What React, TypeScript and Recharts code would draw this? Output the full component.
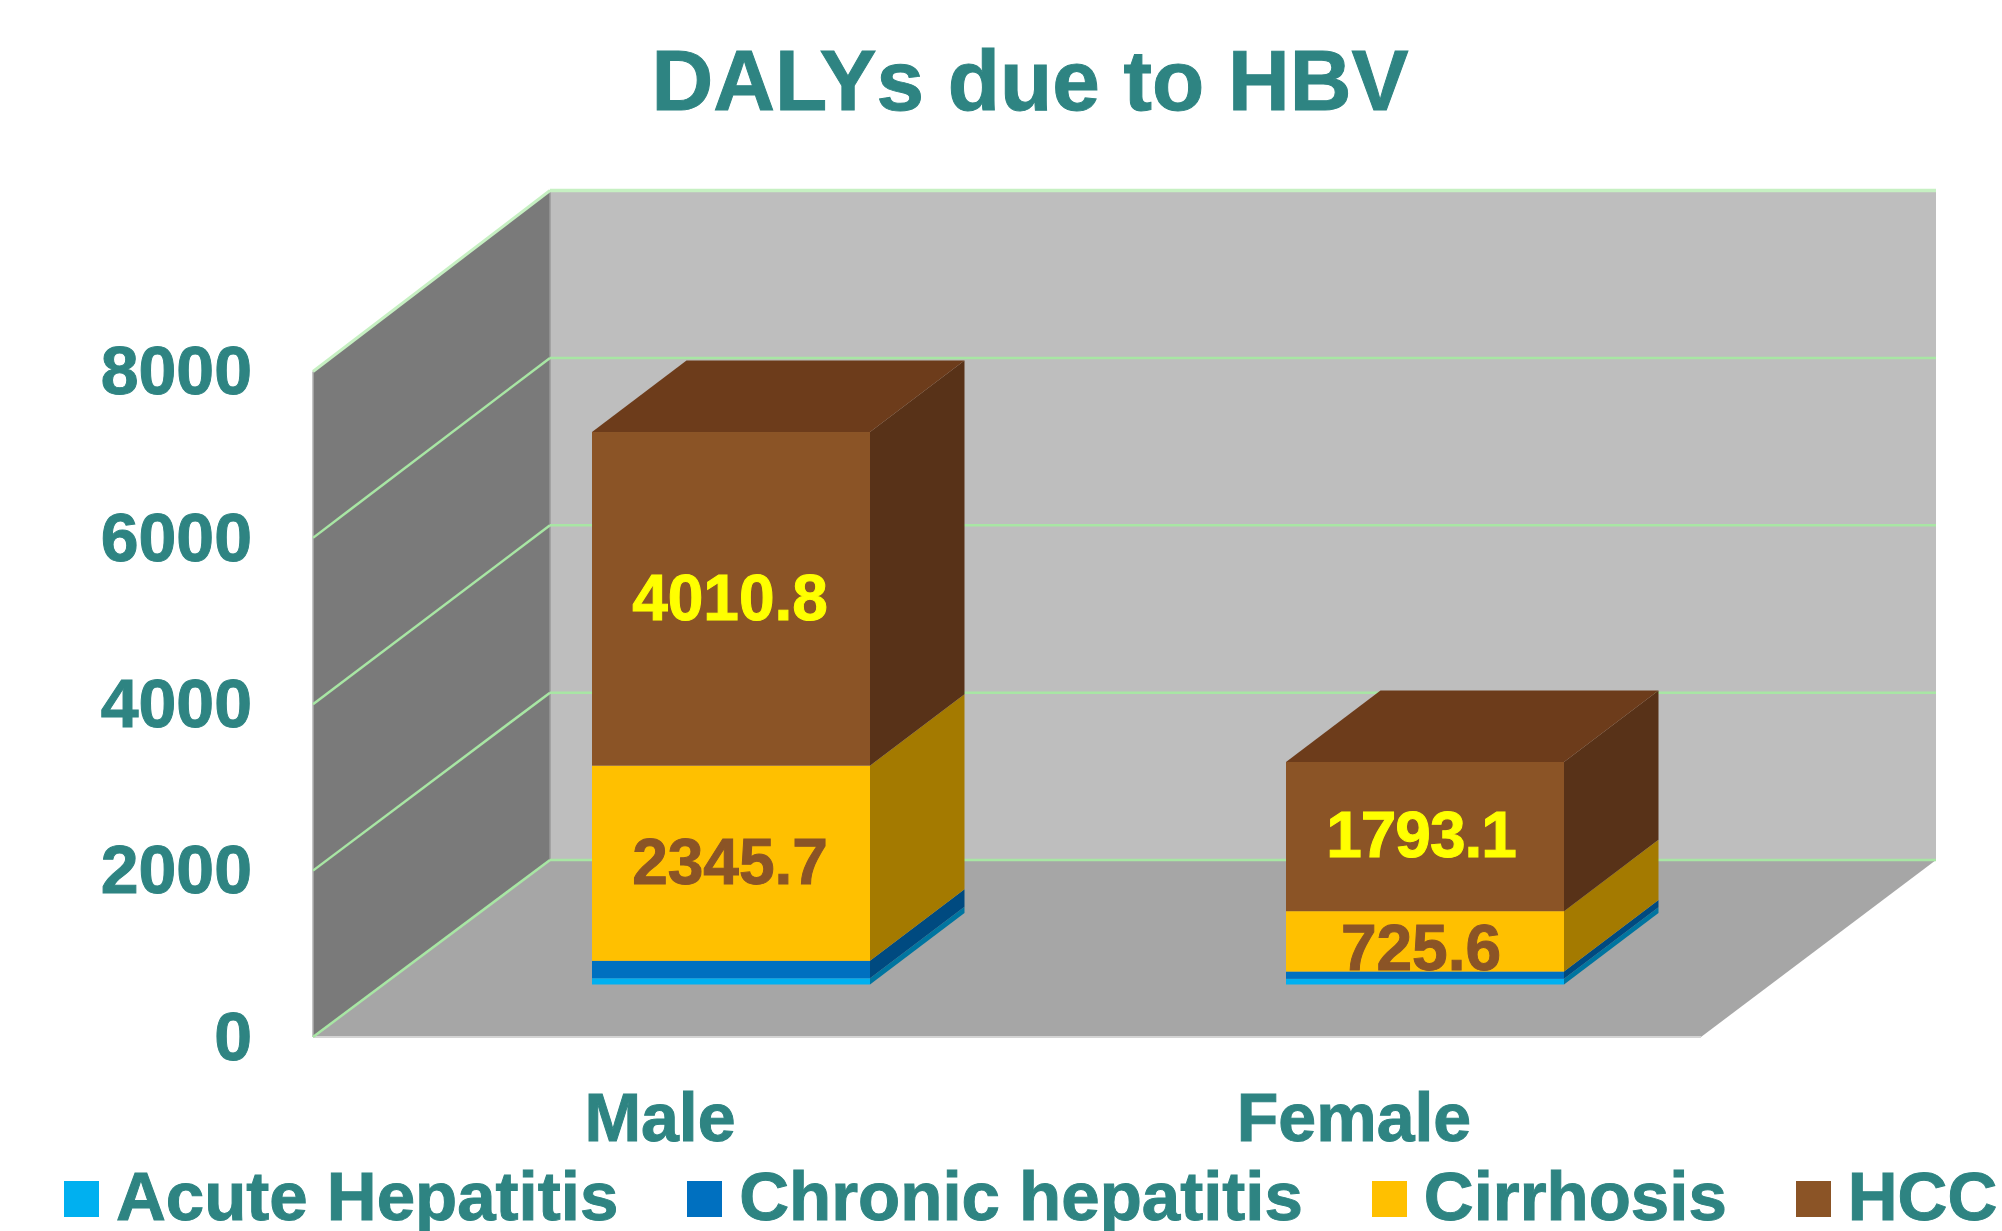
import { BarChart, Bar, XAxis, YAxis, Legend, LabelList, usePlotArea } from "recharts";

const categories = ["Male", "Female"];
const acuteHepatitis = [75, 68];
const chronicHepatitis = [210, 88];
const cirrhosis = [2345.7, 725.6];
const hcc = [4010.8, 1793.1];
const yTicks = [0, 2000, 4000, 6000, 8000];

const chartData = categories.map((name, i) => ({
  name,
  acute: acuteHepatitis[i],
  chronic: chronicHepatitis[i],
  cirrhosis: cirrhosis[i],
  hcc: hcc[i],
}));

const TEAL = "#2e8482";
const GRID = "#a8e6a4";
const GRID_TOP = "#c6f0c2";
const FONT = '"Liberation Sans", Arial, sans-serif';

// 3d depth of the room, of the bars, and where bars sit on the floor
const WALL_DX = 237;
const WALL_DY = 177;
const BACK_SCALE = 1.006;
const BOX_DX = 94.5;
const BOX_DY = 71.5;
const BOX_SHIFT_X = 71;
const BOX_SHIFT_Y = 52.5;

function pts(list: number[][]) {
  return list.map((p) => p.join(",")).join(" ");
}

function Room() {
  const plot = usePlotArea();
  if (!plot) return null;
  const { x, y, width, height } = plot;
  const bottom = y + height;
  const right = x + width;
  const backLeft = x + WALL_DX;
  const backRight = right + WALL_DX - 2;
  const backBottom = bottom - WALL_DY;
  const backTop = backBottom - height * BACK_SCALE;
  return (
    <g>
      <polygon
        points={pts([[backLeft, backTop], [backRight, backTop], [backRight, backBottom], [backLeft, backBottom]])}
        fill="#bebebe"
      />
      <polygon
        points={pts([[x, y], [backLeft, backTop], [backLeft, backBottom], [x, bottom]])}
        fill="#7a7a7a"
      />
      <polygon
        points={pts([[x, bottom], [backLeft, backBottom], [backRight, backBottom], [right, bottom]])}
        fill="#a6a6a6"
      />
      <line x1={x} y1={bottom} x2={right} y2={bottom} stroke="#d4d4d4" strokeWidth={2} />
      <line x1={x} y1={y} x2={x} y2={bottom} stroke="#b0b0b0" strokeWidth={1.5} />
      <line x1={backLeft} y1={backTop} x2={backLeft} y2={backBottom} stroke="#9a9a9a" strokeWidth={1.5} />
      {yTicks.map((t) => {
        const share = t / 8000;
        const frontY = bottom - share * height;
        const backY = backBottom - share * height * BACK_SCALE;
        const isTop = t === 8000;
        return (
          <g key={t}>
            <line x1={x} y1={frontY} x2={backLeft} y2={backY} stroke={isTop ? GRID_TOP : GRID} strokeWidth={isTop ? 3 : 2.5} />
            <line x1={backLeft} y1={backY} x2={backRight} y2={backY} stroke={isTop ? GRID_TOP : GRID} strokeWidth={isTop ? 3.5 : 2.5} />
          </g>
        );
      })}
    </g>
  );
}

function box(sideColor: string, topColor?: string) {
  return function BoxShape(props: any) {
    const { x, y, width, height, fill } = props;
    const fx = x + BOX_SHIFT_X;
    const fy = y - BOX_SHIFT_Y;
    const r = fx + width;
    const b = fy + height;
    return (
      <g>
        <polygon points={pts([[r, fy], [r + BOX_DX, fy - BOX_DY], [r + BOX_DX, b - BOX_DY], [r, b]])} fill={sideColor} />
        {topColor && (
          <polygon points={pts([[fx, fy], [fx + BOX_DX, fy - BOX_DY], [r + BOX_DX, fy - BOX_DY], [r, fy]])} fill={topColor} />
        )}
        <rect x={fx} y={fy} width={width} height={height} fill={fill} />
      </g>
    );
  };
}

function dataLabel(color: string) {
  return function DataLabel(props: any) {
    const { x, y, width, height, value, index } = props;
    // female labels are nudged a little in the original
    const nudgeX = index === 1 ? -4 : -1;
    const nudgeY = index === 1 && height < 100 ? 8 : 0;
    return (
      <text
        x={x + BOX_SHIFT_X + width / 2 + nudgeX}
        y={y - BOX_SHIFT_Y + height / 2 + nudgeY}
        dy=".325em"
        textAnchor="middle"
        fill={color}
        stroke={color}
        strokeWidth={1}
        fontSize={64}
        fontWeight="bold"
        fontFamily={FONT}
        letterSpacing={index === 1 && height > 100 ? -1 : 0}
      >
        {Number(value).toFixed(1)}
      </text>
    );
  };
}

function LegendRow({ payload }: any) {
  return (
    <div style={{ display: "flex", paddingLeft: 64, gap: 69, whiteSpace: "nowrap", fontFamily: FONT }}>
      {(payload || []).map((item: any) => (
        <div key={item.value} style={{ display: "flex", alignItems: "center", gap: 17 }}>
          <span style={{ width: 35, height: 36, background: item.color, marginTop: 3 }} />
          <span style={{ fontSize: 69, lineHeight: "70px", fontWeight: "bold", color: TEAL, WebkitTextStroke: `1px ${TEAL}` }}>
            {item.value}
          </span>
        </div>
      ))}
    </div>
  );
}

const tickStyle = { fontSize: 68, fontWeight: "bold", fill: TEAL, stroke: TEAL, strokeWidth: 1, fontFamily: FONT };

export default function App() {
  return (
    <div style={{ position: "absolute", left: 0, top: 0, width: 2002, height: 1231, overflow: "hidden", background: "#fff" }}>
      <BarChart
        width={2002}
        height={1231}
        data={chartData}
        margin={{ top: 371.5, right: 301, bottom: 74, left: 163 }}
      >
        <Room />
        <text x={1030} y={110} textAnchor="middle" fill={TEAL} stroke={TEAL} strokeWidth={1} fontSize={85.5} fontWeight="bold" fontFamily={FONT}>
          DALYs due to HBV
        </text>
        <XAxis
          dataKey="name"
          height={120}
          axisLine={false}
          tickLine={false}
          tickSize={0}
          tickMargin={56}
          interval={0}
          tick={tickStyle}
        />
        <YAxis
          width={150}
          domain={[0, 8000]}
          ticks={yTicks}
          axisLine={false}
          tickLine={false}
          tickSize={0}
          tickMargin={61}
          tick={{ ...tickStyle, dy: -1.5 }}
        />
        <Legend
          layout="horizontal"
          verticalAlign="middle"
          align="center"
          content={<LegendRow />}
          wrapperStyle={{ left: 0, top: 1162, width: 2002, height: 69 }}
        />
        <Bar dataKey="acute" name="Acute Hepatitis" stackId="a" barSize={278} fill="#00b0f0" shape={box("#0075a0")} isAnimationActive={false} />
        <Bar dataKey="chronic" name="Chronic hepatitis" stackId="a" barSize={278} fill="#0070c0" shape={box("#004a80")} isAnimationActive={false} />
        <Bar dataKey="cirrhosis" name="Cirrhosis" stackId="a" barSize={278} fill="#ffc000" shape={box("#a47a00")} isAnimationActive={false}>
          <LabelList dataKey="cirrhosis" content={dataLabel("#8b5426")} />
        </Bar>
        <Bar dataKey="hcc" name="HCC" stackId="a" barSize={278} fill="#8b5426" shape={box("#583218", "#6d3c1b")} isAnimationActive={false}>
          <LabelList dataKey="hcc" content={dataLabel("#ffff00")} />
        </Bar>
      </BarChart>
    </div>
  );
}
